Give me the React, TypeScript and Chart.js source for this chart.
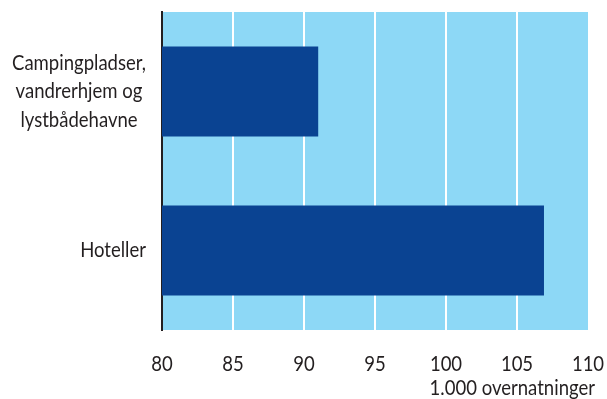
import React, { useEffect, useRef } from "react";
import { Chart, registerables } from "chart.js";

Chart.register(...registerables);

const categories: string[][] = [
  ["Campingpladser,", "vandrerhjem og", "lystbådehavne"],
  ["Hoteller"],
];
const values: number[] = [91.0, 106.9];
const xTicks: number[] = [80, 85, 90, 95, 100, 105, 110];
const axisTitle = "1.000 overnatninger";

const FONT = "Lato, 'Noto Sans', sans-serif";
const TEXT = "#231f20";

export default function App() {
  const ref = useRef<HTMLCanvasElement | null>(null);
  useEffect(() => {
    document.body.style.margin = "0";
    const textPlugin = {
      id: "bgtext",
      beforeDraw(chart: any) {
        const { ctx, chartArea: a } = chart;
        ctx.save();
        ctx.fillStyle = "#8dd8f6";
        ctx.fillRect(a.left, a.top, a.right - a.left, a.bottom - a.top);
        ctx.restore();
      },
      afterDraw(chart: any) {
        const { ctx, chartArea: a, scales } = chart;
        const y = scales.y;
        const x = scales.x;
        ctx.save();
        ctx.font = `21px ${FONT}`;
        const sx = 134 / ctx.measureText("Campingpladser,").width;
        ctx.fillStyle = TEXT;
        ctx.textBaseline = "middle";
        const draw = (t: string, px: number, py: number, align: string) => {
          ctx.save();
          ctx.translate(px, py);
          ctx.scale(sx, 1);
          ctx.textAlign = align;
          ctx.fillText(t, 0, 0);
          ctx.restore();
        };
        const lh = 28.5;
        categories.forEach((lines, i) => {
          const cy = y.getPixelForValue(i);
          const maxW = Math.max(...lines.map((l) => ctx.measureText(l).width)) * sx;
          const right = a.left - 16;
          const cx = right - maxW / 2;
          lines.forEach((l, j) => {
            draw(l, cx, cy + (j - (lines.length - 1) / 2) * lh, "center");
          });
        });
        xTicks.forEach((v) => {
          draw(String(v), x.getPixelForValue(v), 364, "center");
        });
        draw(axisTitle, a.right + 7, 388, "right");
        ctx.restore();
      },
    };
    const chart = new Chart(ref.current!, {
      type: "bar",
      data: {
        labels: categories.map((c) => c.join(" ")),
        datasets: [
          {
            data: values,
            backgroundColor: "#0a4392",
            borderWidth: 0,
            barPercentage: 0.566,
            categoryPercentage: 1,
          },
        ],
      },
      options: {
        indexAxis: "y",
        animation: false,
        responsive: false,
        maintainAspectRatio: false,
        layout: { padding: { top: 12, right: 19, left: 0, bottom: 0 } },
        plugins: { legend: { display: false }, tooltip: { enabled: false } },
        scales: {
          x: {
            type: "linear",
            min: 80,
            max: 110,
            afterBuildTicks(scale: any) {
              scale.ticks = xTicks.map((v) => ({ value: v }));
            },
            afterFit(scale: any) {
              scale.height = 69;
              scale.paddingLeft = 0;
              scale.paddingRight = 0;
            },
            border: { display: false },
            grid: {
              drawTicks: false,
              tickLength: 0,
              lineWidth: 2,
              color: (c: any) =>
                c.tick && c.tick.value > 80 && c.tick.value < 110 ? "#ffffff" : "rgba(0,0,0,0)",
            },
            ticks: { display: false },
          },
          y: {
            afterFit(scale: any) {
              scale.width = 162;
              scale.paddingTop = 0;
              scale.paddingBottom = 0;
            },
            border: { display: true, color: "#231f20", width: 2 },
            grid: { display: false, drawTicks: false },
            ticks: { display: false },
          },
        },
      },
      plugins: [textPlugin],
    } as any);
    return () => chart.destroy();
  }, []);
  return (
    <div style={{ width: 607, height: 399 }}>
      <canvas ref={ref} width={607} height={399} style={{ width: 607, height: 399, display: "block" }} />
    </div>
  );
}
